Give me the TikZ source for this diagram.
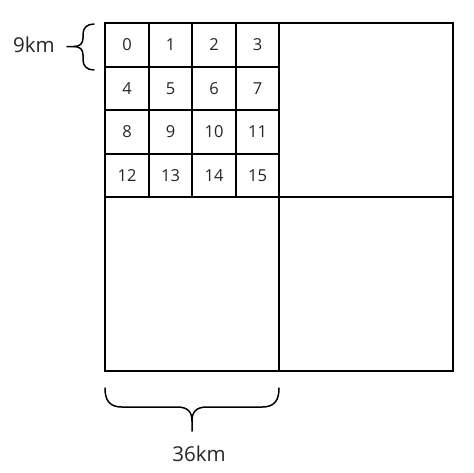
\documentclass[tikz,border=0pt]{standalone}
\usepackage{fontspec}
\setmainfont{Open Sans}
\begin{document}
\begin{tikzpicture}[x=1pt,y=-1pt,line width=2pt,
  celltext/.style={inner sep=0pt, text=black!85, font=\fontsize{16.5}{16.5}\selectfont},
  lbl/.style={inner sep=0pt, text=black!85, font=\fontsize{20.5}{20.5}\selectfont},
  bracepath/.style={line width=1.5pt, line cap=round}]
\useasboundingbox (0,0) rectangle (474,472);
% big square with quadrants
\coordinate (nw) at (105,23);
\coordinate (se) at (453,371);
\draw (nw) rectangle (se);
\draw (279,23) -- (279,371);
\draw (105,197) -- (453,197);
% small grid lines
\foreach \x in {149,192,236}{ \draw (\x,23) -- (\x,197); }
\foreach \y in {67,110,154}{ \draw (105,\y) -- (279,\y); }
% cell labels
\def\xs{{127,170.5,214,257.5}}
\def\ys{{45,88.5,132,175.5}}
\foreach \n in {0,...,15}{
  \pgfmathtruncatemacro\c{mod(\n,4)}
  \pgfmathtruncatemacro\r{int(\n/4)}
  \pgfmathsetmacro\cx{\xs[\c]}
  \pgfmathsetmacro\cy{\ys[\r]}
  \node[celltext] (c\n) at (\cx,\cy) {\n};
}
% left brace
\draw[bracepath] (94,24) .. controls (87,24) and (83,28) .. (83,34) -- (83,38)
  .. controls (83,43.5) and (80,46.5) .. (74,46.5) -- (67,46.5);
\draw[bracepath] (94,70) .. controls (87,70) and (83,66) .. (83,60) -- (83,55)
  .. controls (83,49.5) and (80,46.5) .. (74,46.5);
\node[lbl] (t9) at (34,45) {9km};
% bottom brace
\draw[bracepath] (105,388) .. controls (105,401) and (110,407) .. (122,407) -- (177,407)
  .. controls (188,407) and (192,412) .. (192,421) -- (192,431);
\draw[bracepath] (279,388) .. controls (279,401) and (274,407) .. (262,407) -- (207,407)
  .. controls (196,407) and (192,412) .. (192,421);
\node[lbl] (t36) at (199,454) {36km};
\end{tikzpicture}
\end{document}
